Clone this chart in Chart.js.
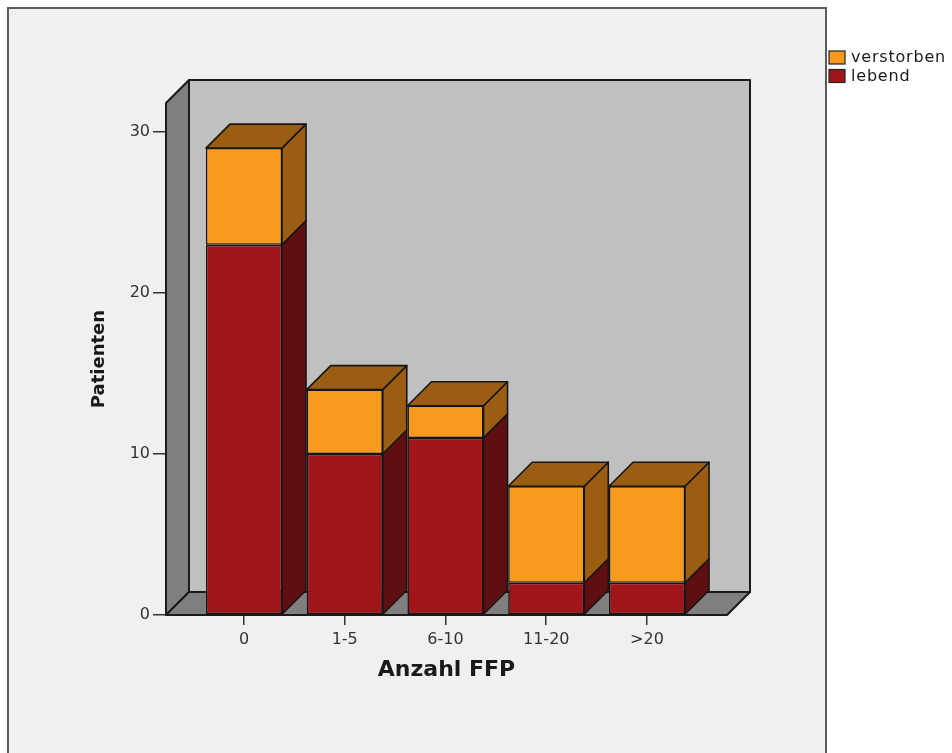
<!DOCTYPE html>
<html>
<head>
<meta charset="utf-8">
<script src="https://cdn.jsdelivr.net/npm/chart.js@4.4.0/dist/chart.umd.min.js"></script>
<style>
  html, body { margin: 0; padding: 0; background: #ffffff; }
  canvas { display: block; }
</style>
</head>
<body>
<canvas id="chart" width="952" height="753"></canvas>
<script>
// Patients by number of FFP units, split by outcome
const categories = ['0', '1-5', '6-10', '11-20', '>20'];
const lebend = [23, 10, 11, 2, 2];
const verstorben = [6, 4, 2, 6, 6];
const yTickValues = [0, 10, 20, 30];
const xTickValues = [0, 1, 2, 3, 4];
const seriesNames = ['lebend', 'verstorben'];

const FONT = "'DejaVu Sans', 'Liberation Sans', sans-serif";
const WALL_DEPTH = 23;
const BAR_DEPTH = 24;
const colors = {
  lebend:     { front: '#a1161b', shade: '#5f0e12' },
  verstorben: { front: '#f89a1e', shade: '#9a5d11' }
};

function poly(ctx, pts, fill, stroke, lw) {
  ctx.beginPath();
  ctx.moveTo(pts[0][0], pts[0][1]);
  for (let i = 1; i < pts.length; i++) ctx.lineTo(pts[i][0], pts[i][1]);
  ctx.closePath();
  ctx.fillStyle = fill;
  ctx.fill();
  ctx.lineWidth = lw;
  ctx.strokeStyle = stroke;
  ctx.lineJoin = 'round';
  ctx.stroke();
}

// Panel background, 3D walls and floor, bar sides/tops, legend
const box3d = {
  id: 'box3d',
  beforeDraw(chart) {
    const ctx = chart.ctx;
    ctx.save();
    ctx.fillStyle = '#ffffff';
    ctx.fillRect(0, 0, chart.width, chart.height);
    ctx.fillStyle = '#f0f0f0';
    ctx.fillRect(8, 8, 818, 770);
    ctx.strokeStyle = '#5c5c5c';
    ctx.lineWidth = 2;
    ctx.strokeRect(8, 8, 818, 770);
    ctx.restore();
  },
  beforeDatasetsDraw(chart) {
    const { ctx, chartArea: a, scales: { y } } = chart;
    const d = WALL_DEPTH;
    const top = y.getPixelForValue(y.max);
    const base = y.getPixelForValue(0);
    ctx.save();
    poly(ctx, [[a.left + d, top - d], [a.right + d, top - d], [a.right + d, base - d], [a.left + d, base - d]], '#c0c0c0', '#1a1a1a', 2);
    poly(ctx, [[a.left, top], [a.left + d, top - d], [a.left + d, base - d], [a.left, base]], '#7f7f7f', '#1a1a1a', 2);
    poly(ctx, [[a.left, base], [a.left + d, base - d], [a.right + d, base - d], [a.right, base]], '#7f7f7f', '#1a1a1a', 2);
    ctx.restore();
  },
  afterDatasetsDraw(chart) {
    const ctx = chart.ctx;
    const d = BAR_DEPTH;
    const metas = chart.data.datasets.map((_, i) => chart.getDatasetMeta(i));
    ctx.save();
    categories.forEach((_, idx) => {
      let topEl = null, topName = null;
      metas.forEach((meta, di) => {
        const el = meta.data[idx];
        if (!el) return;
        const p = el.getProps(['x', 'y', 'base', 'width'], true);
        if (Math.abs(p.base - p.y) < 0.5) return;
        const r = p.x + p.width / 2;
        const name = seriesNames[di];
        poly(ctx, [[r, p.y], [r + d, p.y - d], [r + d, p.base - d], [r, p.base]], colors[name].shade, '#161616', 1.6);
        if (!topEl || p.y < topEl.y) { topEl = p; topName = name; }
      });
      if (topEl) {
        const l = topEl.x - topEl.width / 2, r = topEl.x + topEl.width / 2;
        poly(ctx, [[l, topEl.y], [l + d, topEl.y - d], [r + d, topEl.y - d], [r, topEl.y]], colors[topName].shade, '#161616', 1.6);
      }
    });
    ctx.restore();
  },
  afterDraw(chart) {
    const ctx = chart.ctx;
    ctx.save();
    ctx.font = '16px ' + FONT;
    ctx.letterSpacing = '0.8px';
    ctx.textBaseline = 'middle';
    const ds = chart.data.datasets.slice().reverse();
    ds.forEach((s, i) => {
      const y = 51 + i * 18.5;
      ctx.fillStyle = s.backgroundColor;
      ctx.fillRect(829, y, 16, 13);
      ctx.strokeStyle = '#222';
      ctx.lineWidth = 1.2;
      ctx.strokeRect(829, y, 16, 13);
      ctx.fillStyle = '#1a1a1a';
      ctx.fillText(s.label, 851, y + 7);
    });
    ctx.restore();
  }
};

const toPoints = arr => arr.map((v, i) => ({ x: i, y: v }));

new Chart(document.getElementById('chart'), {
  type: 'bar',
  data: {
    datasets: [
      { label: seriesNames[0], data: toPoints(lebend), backgroundColor: colors.lebend.front },
      { label: seriesNames[1], data: toPoints(verstorben), backgroundColor: colors.verstorben.front }
    ]
  },
  options: {
    responsive: false,
    animation: false,
    events: [],
    layout: { padding: { left: 89, top: 103, right: 225, bottom: 70 } },
    datasets: {
      bar: {
        borderColor: '#161616',
        borderWidth: 1.5,
        borderSkipped: false,
        categoryPercentage: 1,
        barPercentage: 0.755
      }
    },
    plugins: { legend: { display: false }, tooltip: { enabled: false } },
    scales: {
      x: {
        type: 'linear',
        stacked: true,
        offset: false,
        min: -0.774,
        max: 4.794,
        afterBuildTicks: s => { s.ticks = xTickValues.map(v => ({ value: v })); },
        afterFit: s => { s.height = 68; },
        grid: { offset: false, drawOnChartArea: false, drawTicks: true, tickLength: 10, color: '#333', lineWidth: 1.5 },
        border: { display: false },
        ticks: {
          padding: 5,
          color: '#333',
          font: { family: FONT, size: 16 },
          callback: v => categories[v],
          maxRotation: 0,
          autoSkip: false
        },
        title: {
          display: true,
          text: 'Anzahl FFP',
          color: '#1a1a1a',
          padding: 0,
          font: { family: FONT, size: 22, weight: 'bold' }
        }
      },
      y: {
        stacked: true,
        min: 0,
        max: 31.8,
        afterBuildTicks: s => { s.ticks = yTickValues.map(v => ({ value: v })); },
        afterFit: s => { s.width = 77; },
        grid: { drawOnChartArea: false, drawTicks: true, tickLength: 13, color: '#333', lineWidth: 1.5 },
        border: { display: false },
        ticks: {
          padding: 3,
          color: '#333',
          font: { family: FONT, size: 16 }
        },
        title: {
          display: true,
          text: 'Patienten',
          color: '#1a1a1a',
          padding: 0,
          font: { family: FONT, size: 18, weight: 'bold' }
        }
      }
    }
  },
  plugins: [box3d]
});
</script>
</body>
</html>
